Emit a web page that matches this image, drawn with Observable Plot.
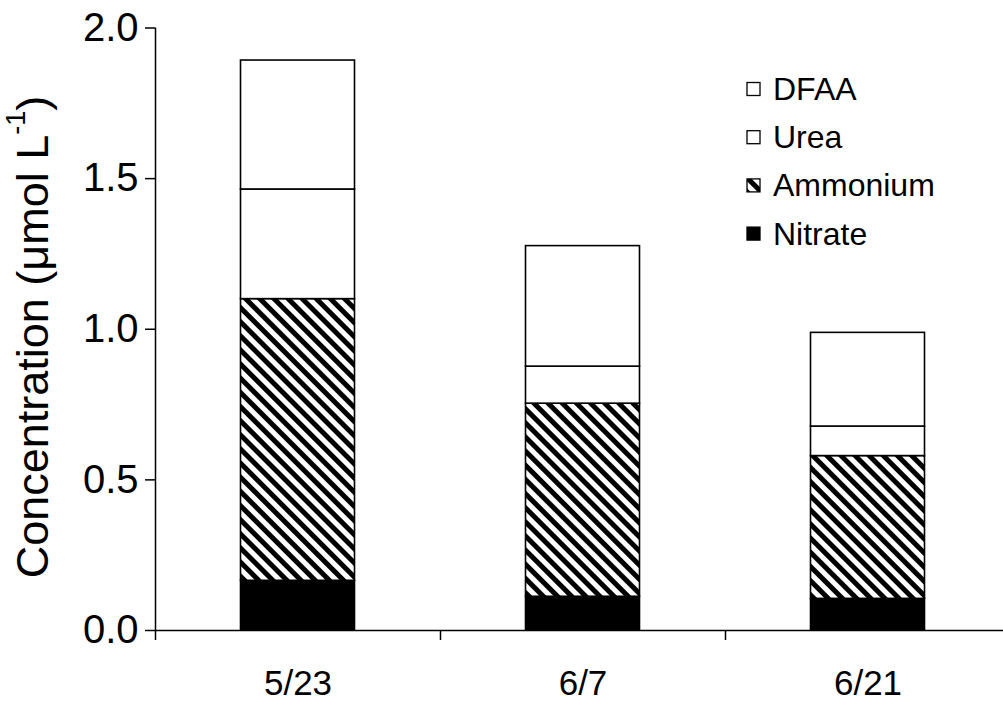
<!DOCTYPE html>
<html><head><meta charset="utf-8">
<script src="https://cdn.jsdelivr.net/npm/d3@7"></script>
<script src="https://cdn.jsdelivr.net/npm/@observablehq/plot@0.6"></script>
<style>
body{margin:0;background:#fff}
#chart{position:relative;width:1003px;height:702px}
</style>
</head><body><div id="chart"></div>
<script>
// Data
const dates = ["5/23", "6/7", "6/21"];
const nitrate  = [0.165, 0.112, 0.105];
const ammonium = [0.935, 0.641, 0.474];
const urea     = [0.364, 0.123, 0.098];
const dfaa     = [0.428, 0.400, 0.311];
const seriesNames = ["Nitrate", "Ammonium", "Urea", "DFAA"];
const legendOrder = ["DFAA", "Urea", "Ammonium", "Nitrate"];
const yTicks = [0, 0.5, 1.0, 1.5, 2.0];

const seriesValues = {Nitrate: nitrate, Ammonium: ammonium, Urea: urea, DFAA: dfaa};
const fills = {Nitrate: "#000", Ammonium: "url(#hatch)", Urea: "#fff", DFAA: "#fff"};

const rows = [];
dates.forEach((d, i) => {
  let base = 0;
  seriesNames.forEach(s => {
    const v = seriesValues[s][i];
    rows.push({date: d, i, series: s, y1: base, y2: base + v});
    base += v;
  });
});

const FONT = "'Liberation Sans', Arial, Helvetica, sans-serif";
const FS_Y = 40, FS_X = 35, FS_LEG = 32, FS_TITLE = 45;

const plot = Plot.plot({
  width: 1003, height: 702,
  marginLeft: 155, marginRight: -7, marginTop: 27.5, marginBottom: 72,
  style: {fontFamily: FONT, fontSize: "28px", color: "#000", background: "#fff", overflow: "visible"},
  x: {domain: [0, dates.length], axis: null},
  y: {domain: [0, 2], axis: null},
  marks: [
    ...seriesNames.map(s => Plot.rectY(rows.filter(r => r.series === s), {
      x1: r => r.i + 0.3, x2: r => r.i + 0.7, y1: "y1", y2: "y2",
      fill: fills[s], stroke: "#000", strokeWidth: 1.6
    })),
    Plot.axisY({ticks: yTicks, tickFormat: d3.format(".1f"), tickSize: 10, tickPadding: 7, label: null, fontSize: FS_Y, strokeWidth: 1.5}),
    Plot.axisX({ticks: d3.range(dates.length + 1), tickSize: 10, tickFormat: () => "", label: null, strokeWidth: 1.5}),
    Plot.axisX({ticks: dates.map((d, i) => i + 0.5), tickSize: 0, tickPadding: 40, tickFormat: v => dates[Math.floor(v)], label: null, fontSize: FS_X}),
    Plot.ruleX([0], {strokeWidth: 1.5}),
    Plot.ruleY([0], {strokeWidth: 1.5})
  ]
});

const svg = d3.select(plot);
svg.insert("defs", ":first-child").html(
  `<pattern id="hatch" patternUnits="userSpaceOnUse" width="10" height="10" patternTransform="rotate(-45)">
     <rect width="10" height="10" fill="#fff"/><rect width="5" height="10" fill="#000"/>
   </pattern>`);

// Y axis title with superscript
const yt = svg.append("text")
  .attr("transform", "translate(32,337) rotate(-90)")
  .attr("text-anchor", "middle")
  .attr("dominant-baseline", "central")
  .attr("font-family", FONT).attr("font-size", FS_TITLE).attr("fill", "#000");
yt.append("tspan").text("Concentration (μmol L");
yt.append("tspan").attr("font-size", FS_TITLE * 0.6).attr("dy", -16).text("-1");
yt.append("tspan").attr("dy", 16).text(")");

// Legend inside plot area
const lg = svg.append("g").attr("font-family", FONT).attr("font-size", FS_LEG).attr("text-anchor", "start");
legendOrder.forEach((s, k) => {
  const cy = 89 + k * 48.2;
  lg.append("rect").attr("x", 747).attr("y", cy - 6.5).attr("width", 13).attr("height", 13)
    .attr("fill", fills[s]).attr("stroke", "#000").attr("stroke-width", 1.3);
  lg.append("text").attr("x", 773).attr("y", cy).attr("dominant-baseline", "central").attr("fill", "#000").text(s);
});

document.getElementById("chart").append(plot);
</script>
</body></html>
